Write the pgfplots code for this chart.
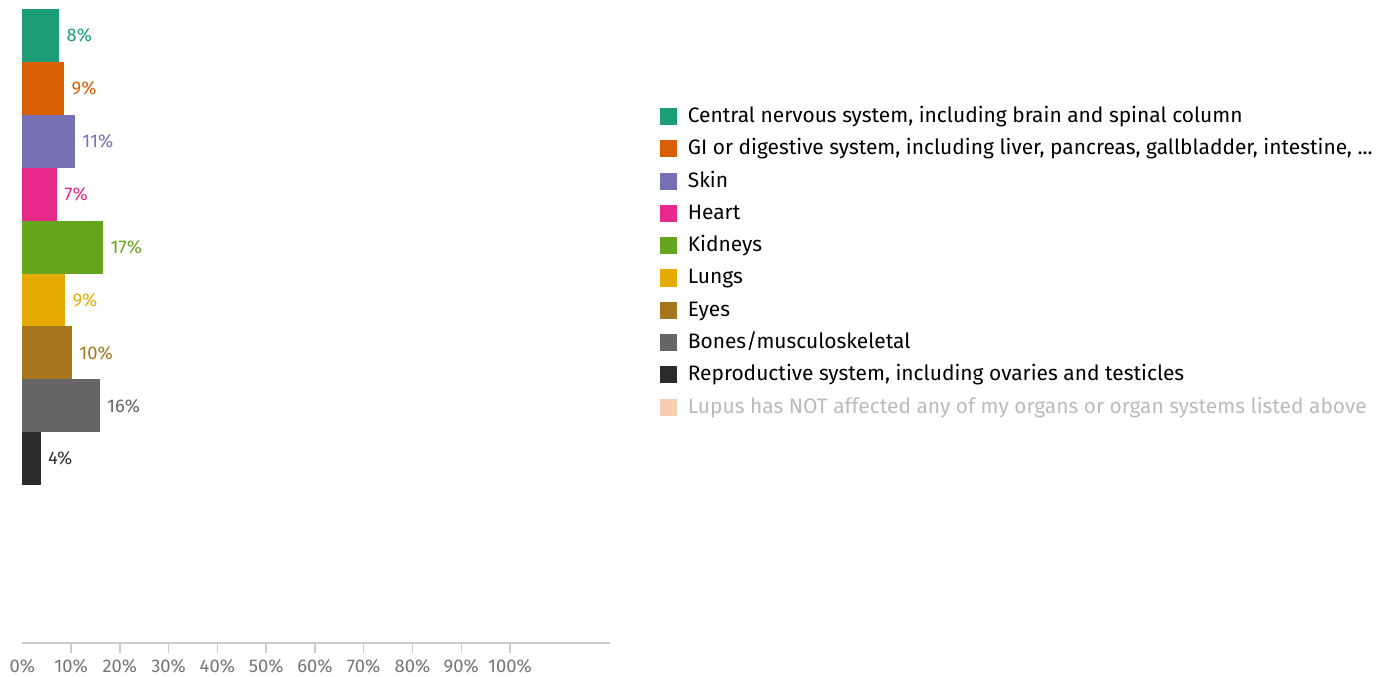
\documentclass[border=0pt]{standalone}
\usepackage{fontspec}
\setmainfont{Fira Sans}
\usepackage{pgfplots}
\pgfplotsset{compat=1.18}

\definecolor{cns}{HTML}{1B9E77}
\definecolor{gi}{HTML}{D95F02}
\definecolor{skin}{HTML}{7570B3}
\definecolor{heart}{HTML}{E7298A}
\definecolor{kidney}{HTML}{66A61E}
\definecolor{lungs}{HTML}{E6AB02}
\definecolor{eyes}{HTML}{A6761D}
\definecolor{bones}{HTML}{666666}
\definecolor{repro}{HTML}{2A2A2A}
\definecolor{lupus}{HTML}{F5CDB0}
\definecolor{lupustext}{HTML}{BBBBBB}
\definecolor{axisgray}{HTML}{CCCCCC}
\definecolor{ticktext}{HTML}{757575}

\begin{document}
\begin{tikzpicture}
\useasboundingbox (0,0) rectangle (1041pt,-507.75pt);
\begin{axis}[
    at={(16.7pt,-6.75pt)}, anchor=north west,
    scale only axis,
    width=440.8pt, height=475.5pt,
    xbar, bar width=1, bar shift=0pt,
    y dir=reverse,
    xmin=0, xmax=120.5,
    ymin=0.5, ymax=12.485,
    axis x line*=bottom, axis y line=none,
    x axis line style={-, draw=axisgray, line width=1.1pt},
    xtick={10,20,...,100},
    xticklabels={10\%,20\%,30\%,40\%,50\%,60\%,70\%,80\%,90\%,100\%},
    extra x ticks={0}, extra x tick labels={0\%},
    extra x tick style={major tick style={draw=none}},
    tick align=outside, major tick length=7.5pt,
    tick style={draw=axisgray, line width=1.1pt},
    xtick pos=bottom,
    ticklabel style={font=\fontsize{13.8}{16}\selectfont, text=ticktext},
    xticklabel style={yshift=-1pt},
    ytick=\empty,
    clip=false,
    /pgf/number format/assume math mode=true,
    nodes near coords={\pgfmathprintnumber[fixed,precision=0,assume math mode=true]{\pgfplotspointmeta}\%},
    every node near coord/.append style={font=\fontsize{13.8}{16}\selectfont, xshift=2pt},
    legend style={at={(1.0839,0.8485)}, anchor=north west, draw=none, fill=none,
        inner sep=0pt, row sep=7.2pt, font=\fontsize{15.7}{18}\selectfont,
        nodes={inner xsep=0pt, inner ysep=0pt, text height=13pt, text depth=4pt}},
    legend cell align=left,
    legend image code/.code={\fill[#1] (0pt,-6.4pt) rectangle (12.75pt,6.4pt);
        \path (21.2pt,0pt);},
]
\addplot[fill=cns, draw=none, every node near coord/.append style={text=cns}] coordinates {(7.6,1)};
\addlegendentry{Central nervous system, including brain and spinal column}
\addplot[fill=gi, draw=none, every node near coord/.append style={text=gi}] coordinates {(8.6,2)};
\addlegendentry{GI or digestive system, including liver, pancreas, gallbladder, intestine, ...}
\addplot[fill=skin, draw=none, every node near coord/.append style={text=skin}] coordinates {(10.8,3)};
\addlegendentry{Skin}
\addplot[fill=heart, draw=none, every node near coord/.append style={text=heart}] coordinates {(7.1,4)};
\addlegendentry{Heart}
\addplot[fill=kidney, draw=none, every node near coord/.append style={text=kidney}] coordinates {(16.6,5)};
\addlegendentry{Kidneys}
\addplot[fill=lungs, draw=none, every node near coord/.append style={text=lungs}] coordinates {(8.8,6)};
\addlegendentry{Lungs}
\addplot[fill=eyes, draw=none, every node near coord/.append style={text=eyes}] coordinates {(10.2,7)};
\addlegendentry{Eyes}
\addplot[fill=bones, draw=none, every node near coord/.append style={text=bones}] coordinates {(15.9,8)};
\addlegendentry{Bones/musculoskeletal}
\addplot[fill=repro, draw=none, every node near coord/.append style={text=repro!95}] coordinates {(3.8,9)};
\addlegendentry{Reproductive system, including ovaries and testicles}
\addlegendimage{fill=lupus, draw=none}
\addlegendentry{\textcolor{lupustext}{Lupus has NOT affected any of my organs or organ systems listed above}}
\end{axis}
\end{tikzpicture}
\end{document}
